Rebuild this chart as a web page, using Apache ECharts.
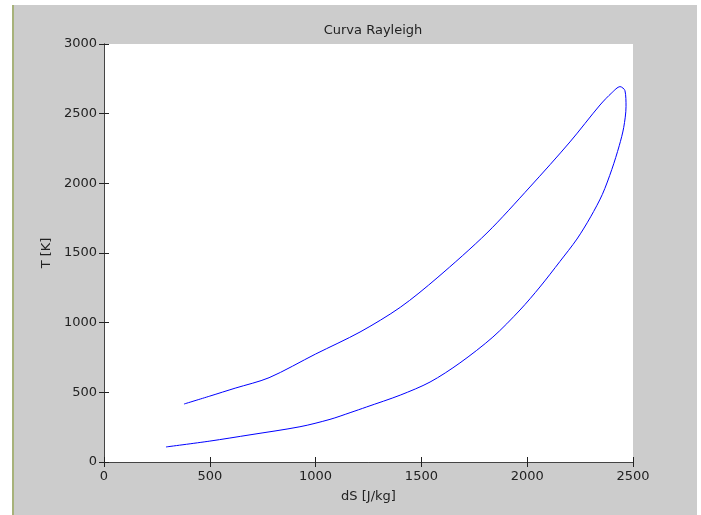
<!DOCTYPE html>
<html>
<head>
<meta charset="utf-8">
<script src="https://cdn.jsdelivr.net/npm/echarts@6/dist/echarts.min.js"></script>
<style>
html,body{margin:0;padding:0;background:#ffffff;}
#chart{width:701px;height:515px;}
</style>
</head>
<body>
<div id="chart"></div>
<script>
// Curve data: entropy change dS [J/kg] vs temperature T [K], in drawing order
var dS = [378, 500, 620, 780, 1000, 1210, 1400, 1574, 1810, 2013, 2202, 2344, 2400, 2439, 2462, 2467, 2456, 2435, 2400, 2355, 2300, 2235, 2155, 2060, 1966, 1838, 1682, 1541, 1400, 1241, 1163, 1068, 926, 690, 500, 293];
var T  = [416, 473, 530, 605, 775, 933, 1110, 1321, 1644, 1974, 2297, 2562, 2650, 2694, 2665, 2550, 2400, 2270, 2100, 1920, 1760, 1600, 1440, 1256, 1091, 897, 711, 574, 480, 395, 354, 306, 253, 195, 150, 108];
var xTicks = [0, 500, 1000, 1500, 2000, 2500];
var yTicks = [0, 500, 1000, 1500, 2000, 2500, 3000];

var pts = dS.map(function (v, i) { return [v, T[i]]; });
var font = 'DejaVu Sans, Liberation Sans, sans-serif';
var chart = echarts.init(document.getElementById('chart'), null, {renderer: 'canvas'});
var plain = function (v) { return String(v); };
var axisCommon = {
  type: 'value',
  axisLine: {show: true, lineStyle: {color: '#444', width: 1}},
  axisTick: {show: true, inside: true, length: 5, lineStyle: {color: '#222'}},
  splitLine: {show: false}
};
chart.setOption({
  animation: false,
  backgroundColor: '#ffffff',
  graphic: [
    {type: 'rect', shape: {x: 14, y: 5, width: 683, height: 510}, style: {fill: '#cccccc'}, z: -10, silent: true},
    {type: 'rect', shape: {x: 12, y: 5, width: 2, height: 510}, style: {fill: '#a7b27a'}, z: -10, silent: true}
  ],
  title: {
    text: 'Curva Rayleigh', left: 368, top: 19, textAlign: 'center',
    textStyle: {fontFamily: font, fontSize: 13, fontWeight: 'normal', color: '#222'}
  },
  grid: {left: 104, right: 68, top: 44, bottom: 53, show: true, backgroundColor: '#ffffff', borderWidth: 0},
  xAxis: [
    Object.assign({}, axisCommon, {
      min: xTicks[0], max: xTicks[xTicks.length - 1], interval: 500, position: 'bottom',
      name: 'dS [J/kg]', nameLocation: 'middle', nameGap: 28,
      nameTextStyle: {fontFamily: font, fontSize: 13, color: '#222'},
      axisLabel: {fontFamily: font, fontSize: 13, color: '#222', margin: 8, formatter: plain}
    }),
    Object.assign({}, axisCommon, {
      min: xTicks[0], max: xTicks[xTicks.length - 1], interval: 500, position: 'top',
      axisLabel: {show: false}
    })
  ],
  yAxis: [
    Object.assign({}, axisCommon, {
      min: yTicks[0], max: yTicks[yTicks.length - 1], interval: 500, position: 'left',
      name: 'T [K]', nameLocation: 'middle', nameGap: 50,
      nameTextStyle: {fontFamily: font, fontSize: 13, color: '#222'},
      axisLabel: {fontFamily: font, fontSize: 13, color: '#222', margin: 7, formatter: plain}
    }),
    Object.assign({}, axisCommon, {
      min: yTicks[0], max: yTicks[yTicks.length - 1], interval: 500, position: 'right',
      axisLabel: {show: false}
    })
  ],
  series: [{
    type: 'line',
    data: pts,
    showSymbol: false,
    smooth: 0.3,
    lineStyle: {color: '#0000ff', width: 1},
    xAxisIndex: 0, yAxisIndex: 0
  }]
});
</script>
</body>
</html>
